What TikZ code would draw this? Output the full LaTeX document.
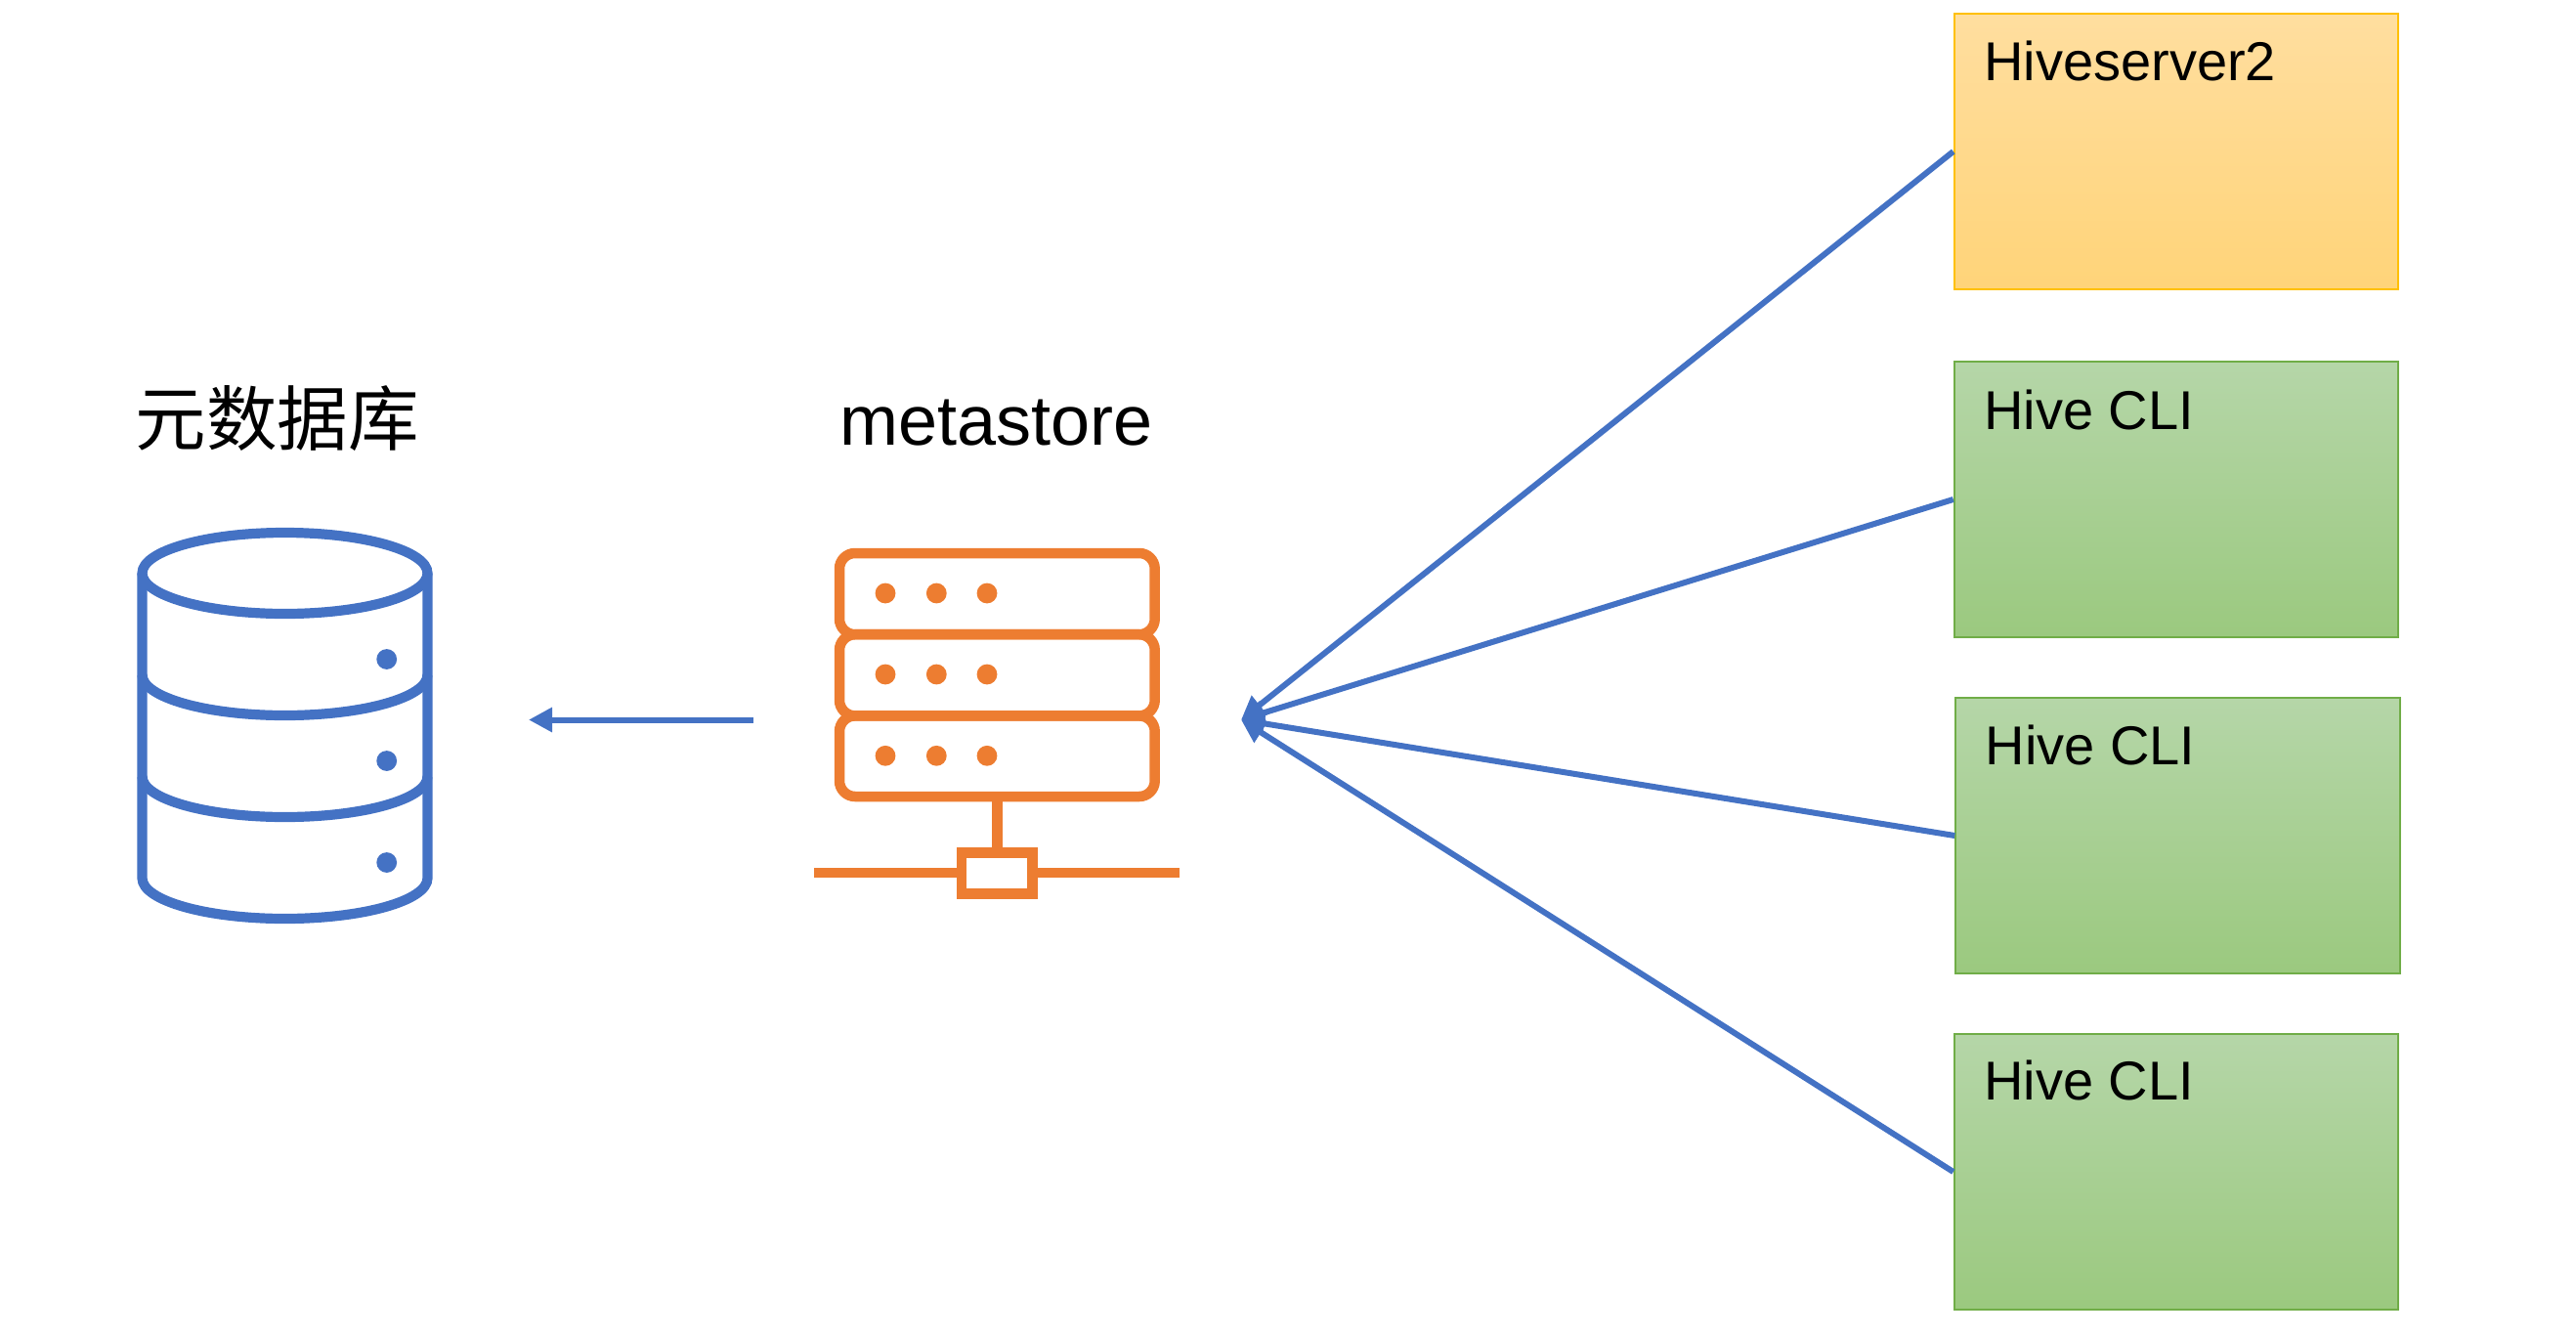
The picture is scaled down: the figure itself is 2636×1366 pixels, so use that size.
\documentclass[tikz,border=0pt]{standalone}
\usepackage{fontspec}
\setmainfont{Liberation Sans}
\newfontfamily\cjkfont{Noto Sans CJK SC}
\usetikzlibrary{arrows.meta}
\definecolor{officeblue}{HTML}{4472C4}
\definecolor{officeorange}{HTML}{ED7D31}
\definecolor{goldline}{HTML}{FFC000}
\definecolor{goldtop}{HTML}{FFDE9F}
\definecolor{goldmid}{HTML}{FFD98F}
\definecolor{goldbot}{HTML}{FFD479}
\definecolor{greenline}{HTML}{70AD47}
\definecolor{greentop}{HTML}{B5D6A8}
\definecolor{greenmid}{HTML}{ACD098}
\definecolor{greenbot}{HTML}{9BC97F}
\tikzset{
  x=1pt,y=1pt,
  clientbox/.style={rectangle,draw,line width=2pt,inner sep=0pt,minimum width=454.5pt,minimum height=282pt},
  goldbox/.style={clientbox,draw=goldline,top color=goldtop,middle color=goldmid,bottom color=goldbot},
  greenbox/.style={clientbox,draw=greenline,top color=greentop,middle color=greenmid,bottom color=greenbot},
  boxlabel/.style={anchor=base west,inner sep=0pt,font=\fontsize{56}{60}\selectfont,text=black},
  titlelabel/.style={anchor=base,inner sep=0pt,text=black},
  link/.style={draw=officeblue,line width=6pt,-{Triangle[length=24pt,width=24pt]}},
  dbline/.style={draw=officeblue,line width=10.2pt},
  srvline/.style={draw=officeorange,line width=10.5pt},
  dbdot/.style={fill=officeblue},
  srvdot/.style={fill=officeorange}
}
\begin{document}
\begin{tikzpicture}
\useasboundingbox (0,0) rectangle (2636,-1366);
% titles
\node[titlelabel,font=\cjkfont\fontsize{72.5}{75}\selectfont] (dbtitle) at (283.5,-455) {元数据库};
\node[titlelabel,font=\fontsize{72}{75}\selectfont] (mstitle) at (1019.7,-455) {metastore};
% database icon
\draw[dbline] (291.5,-586.5) ellipse [x radius=146pt,y radius=41.5pt];
\draw[dbline] (145.5,-586.5) -- (145.5,-898.5) arc [start angle=180,end angle=360,x radius=146pt,y radius=41.5pt] -- (437.5,-586.5);
\draw[dbline] (145.5,-690.5) arc [start angle=180,end angle=360,x radius=146pt,y radius=41.5pt];
\draw[dbline] (145.5,-794.5) arc [start angle=180,end angle=360,x radius=146pt,y radius=41.5pt];
\fill[dbdot] (395.7,-674.5) circle [radius=10.4pt];
\fill[dbdot] (395.7,-778.5) circle [radius=10.4pt];
\fill[dbdot] (395.7,-882.5) circle [radius=10.4pt];
% server icon
\draw[srvline,rounded corners=16pt] (859,-566) rectangle (1181.7,-649.2);
\draw[srvline,rounded corners=16pt] (859,-649.2) rectangle (1181.7,-732.4);
\draw[srvline,rounded corners=16pt] (859,-732.4) rectangle (1181.7,-815);
\foreach \yy in {607,690,773.3}{
  \foreach \xx in {906,958.3,1010}{
    \fill[srvdot] (\xx,-\yy) circle [radius=10.4pt];
  }
}
\draw[srvline] (1020.3,-815) -- (1020.3,-872.5);
\draw[srvline] (984,-872.5) rectangle (1056.7,-914.5);
\draw[srvline] (833.3,-893.2) -- (979,-893.2);
\draw[srvline] (1061.7,-893.2) -- (1207.3,-893.2);
% client boxes
\node[goldbox]  (hs2)  at (2227,-155) {};
\node[greenbox] (cli1) at (2227,-511) {};
\node[greenbox] (cli2) at (2228.5,-855) {};
\node[greenbox] (cli3) at (2227,-1199) {};
\node[boxlabel] (hs2text)  at (2030,-82)  {Hiveserver2};
\node[boxlabel] (cli1text) at (2030,-439.5) {Hive CLI};
\node[boxlabel] (cli2text) at (2031.5,-782)   {Hive CLI};
\node[boxlabel] (cli3text) at (2030,-1125.5){Hive CLI};
% connectors
\coordinate (hub) at (1270,-736.5);
\coordinate (tailstart) at (770.7,-736.5);
\coordinate (tailend) at (541,-736.5);
\draw[link] (hs2.west) -- (hub);
\draw[link] (cli1.west) -- (hub);
\draw[link] (cli2.west) -- (hub);
\draw[link] (cli3.west) -- (hub);
\draw[link] (tailstart) -- (tailend);
\end{tikzpicture}
\end{document}
